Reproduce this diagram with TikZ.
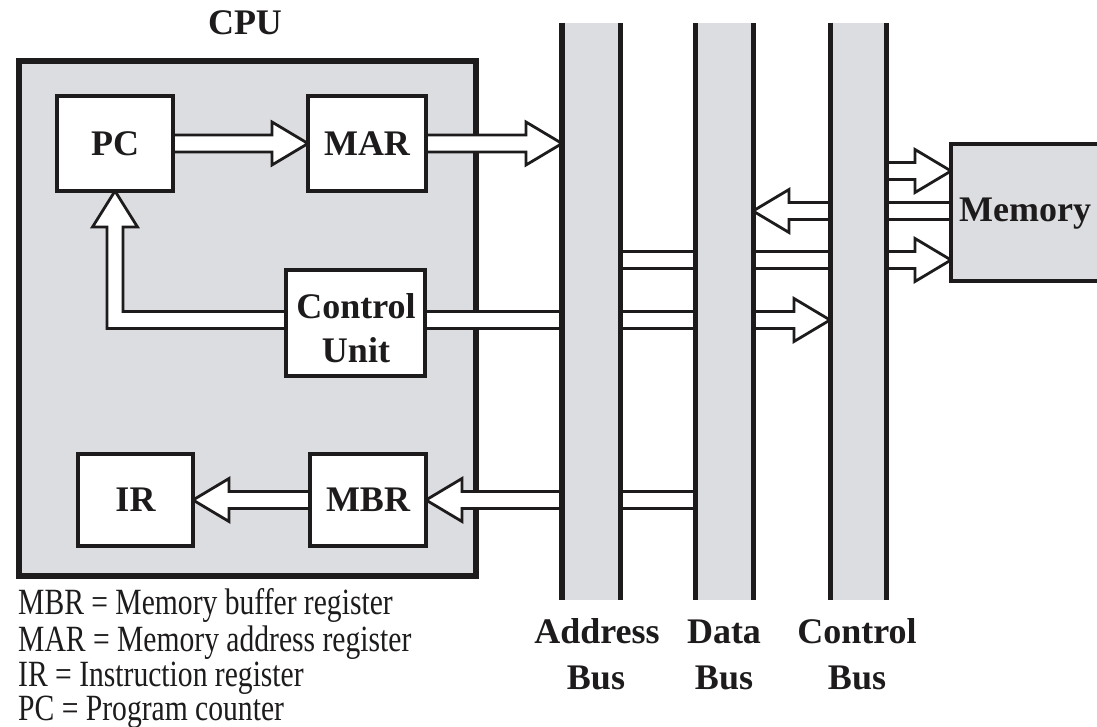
\documentclass[tikz,border=0pt]{standalone}
\usepackage{fontspec}
\usepackage{graphicx}
\setmainfont{Liberation Serif}
\usetikzlibrary{calc}
\definecolor{panel}{RGB}{220,221,224}
\definecolor{ink}{RGB}{30,27,28}
\pgfdeclarelayer{base}
\pgfdeclarelayer{wires}
\pgfsetlayers{base,wires,main}

% wide hollow arrow from #1 (open tail) to #2 (tip), both at the same height
\newcommand\fatarrow[2]{%
  \path[fat] let \p1=(#1), \p2=(#2), \n2={\x2-36*(\x2-\x1)/abs(\x2-\x1)} in
    (\x1,{\y1+8.5pt}) -- ({\n2*1pt},{\y1+8.5pt}) -- ({\n2*1pt},{\y1+21.5pt})
    -- (\x2,\y1) -- ({\n2*1pt},{\y1-21.5pt}) -- ({\n2*1pt},{\y1-8.5pt})
    -- (\x1,{\y1-8.5pt});}

\begin{document}
\begin{tikzpicture}[x=1pt,y=-1pt,
  lbl/.style={font=\fontsize{36}{44}\selectfont\bfseries, text=ink},
  reg/.style={lbl, draw=ink, line width=4pt, fill=white, inner sep=0pt, outer sep=0pt},
  busbox/.style={fill=panel, draw=none, inner sep=0pt, outer sep=0pt,
                 anchor=north west, minimum height=577pt},
  busline/.style={draw=ink, line width=5pt},
  fat/.style={draw=ink, fill=white, line width=2.8pt, line join=miter, miter limit=10},
  note/.style={font=\fontsize{37}{44}\selectfont, text=ink, anchor=base west, inner sep=0pt},
  tag/.style={lbl, anchor=base, inner sep=0pt},
]
\useasboundingbox (0,0) rectangle (1097,727);
\clip (0,0) rectangle (1097,727);

% processor enclosure
\begin{pgfonlayer}{base}
  \fill[white] (0,0) rectangle (1097,727);
  \node[draw=ink, fill=panel, line width=5.5pt, inner sep=0pt, outer sep=0pt,
        minimum width=457pt, minimum height=515pt] (cpu) at (247.5,318.5) {};
\end{pgfonlayer}
\node[tag] (title) at (245,35) {CPU};

% registers and control unit
\node[reg, minimum width=116pt, minimum height=95pt] (pc)  at (115,143.5) {PC};
\node[reg, minimum width=118pt, minimum height=95pt] (mar) at (367,143.5) {MAR};
\node[reg, minimum width=139pt, minimum height=106pt] (cu) at (355.5,323) {};
\node[tag] (cut1) at (356,318) {Control};
\node[tag] (cut2) at (356,362) {Unit};
\node[reg, minimum width=115pt, minimum height=92pt] (ir)  at (135.5,500) {IR};
\node[reg, minimum width=116pt, minimum height=92pt] (mbr) at (368,500) {MBR};

% system buses
\node[busbox, minimum width=58pt] (abus) at (562,23) {};
\node[busbox, minimum width=58pt] (dbus) at (695,23) {};
\node[busbox, minimum width=56pt] (cbus) at (830,23) {};
\draw[busline, line width=6pt] (abus.north west) -- (abus.south west);
\draw[busline] (abus.north east) -- (abus.south east);
\foreach \b in {dbus,cbus}{
  \draw[busline] (\b.north west) -- (\b.south west);
  \draw[busline] (\b.north east) -- (\b.south east);
}
\node[tag] (al1) at (597,643) {Address};
\node[tag] (al2) at (596,689) {Bus};
\node[tag] (dl1) at (724,643) {Data};
\node[tag] (dl2) at (724,689) {Bus};
\node[tag] (cl1) at (857,643) {Control};
\node[tag] (cl2) at (857,689) {Bus};

% main memory
\node[draw=ink, line width=4pt, fill=panel, inner sep=0pt, outer sep=0pt,
      minimum width=200pt, minimum height=137pt, anchor=west] (mem) at (951,212.5) {};
\node[lbl, anchor=base west, inner sep=0pt] (memtxt) at (959,222) {Memory};

\coordinate (m1) at ($(mem.west)+(0,-41.5)$);
\coordinate (m2) at ($(mem.west)+(0,-1.5)$);
\coordinate (m3) at ($(mem.west)+(0,47.5)$);
\coordinate (cuR) at ($(cu.east)+(0,-3)$);
\coordinate (cuL) at ($(cu.west)+(0,-3)$);

% data paths
\begin{pgfonlayer}{wires}
  \fatarrow{pc.east}{mar.west}
  \fatarrow{mar.east}{abus.west |- mar.east}
  \fatarrow{cuR}{cbus.west |- cuR}
  \fatarrow{dbus.center |- mbr.east}{mbr.east}
  \fatarrow{mbr.west}{ir.east}
  \fatarrow{cbus.center |- m1}{m1}
  \fatarrow{m2}{dbus.east |- m2}
  \fatarrow{abus.center |- m3}{m3}
  % control unit back to the program counter
  \path[fat] let \p1=(cuL), \p2=(pc.south) in
    (\x1,{\y1+8.5pt}) -- ({\x2+8pt},{\y1+8.5pt}) -- ({\x2+8pt},{\y2-36pt})
    -- ({\x2+22.5pt},{\y2-36pt}) -- (\x2,\y2) -- ({\x2-22.5pt},{\y2-36pt})
    -- ({\x2-8pt},{\y2-36pt}) -- ({\x2-8pt},{\y1-8.5pt}) -- (\x1,{\y1-8.5pt});
\end{pgfonlayer}

% key
\node[note] (k1) at (18,614) {\scalebox{0.8}[1]{MBR = Memory buffer register}};
\node[note] (k2) at (18,651) {\scalebox{0.8}[1]{MAR = Memory address register}};
\node[note] (k3) at (18,686) {\scalebox{0.8}[1]{IR = Instruction register}};
\node[note] (k4) at (18,720) {\scalebox{0.8}[1]{PC = Program counter}};
\end{tikzpicture}
\end{document}
